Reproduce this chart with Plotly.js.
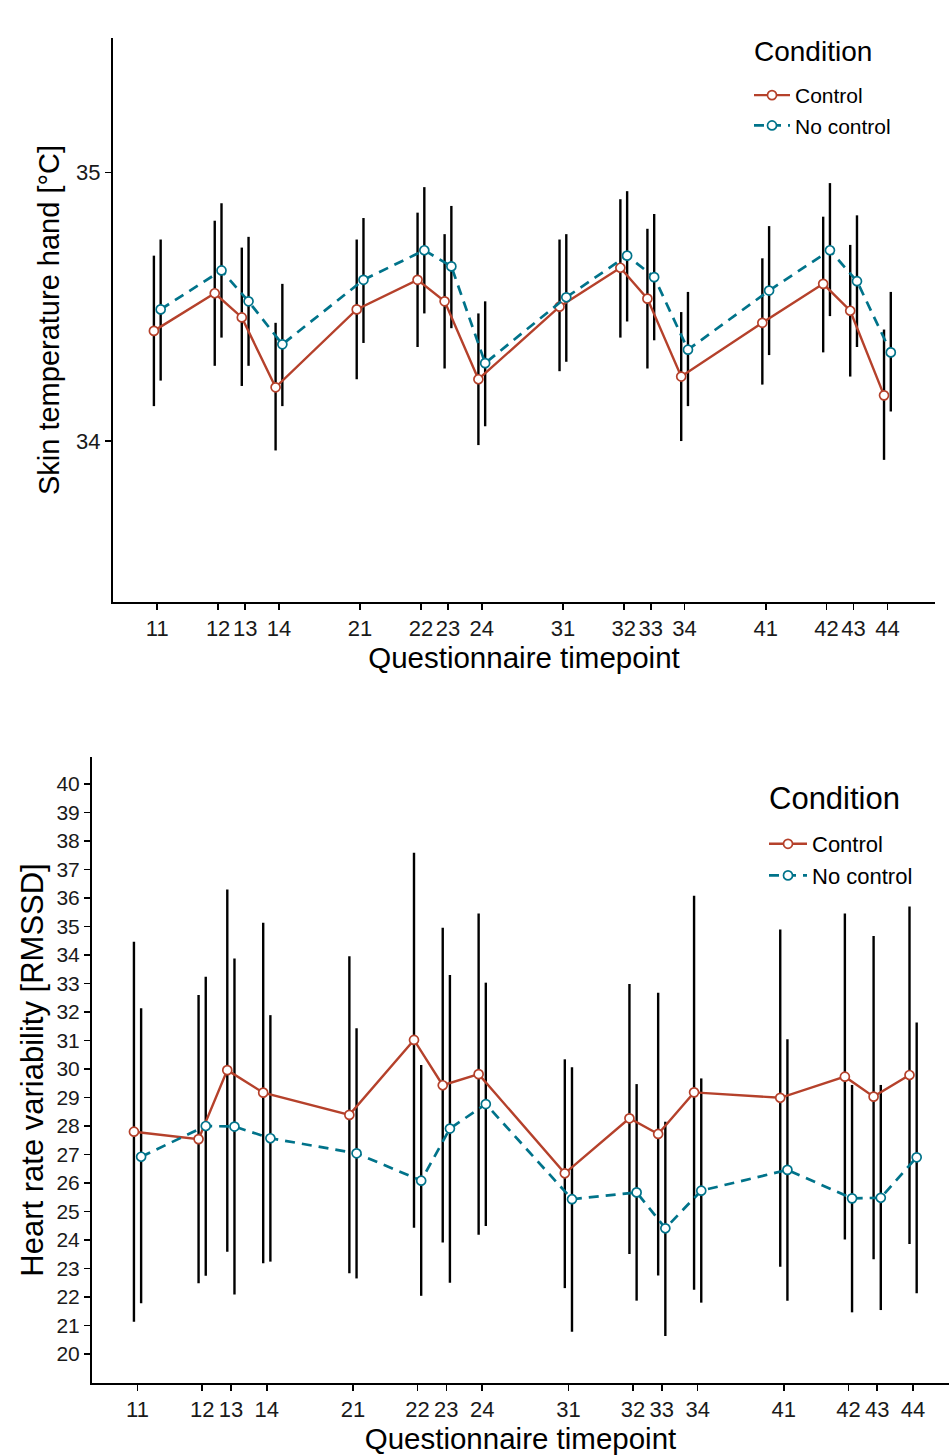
<!DOCTYPE html>
<html>
<head>
<meta charset="utf-8">
<script src="https://cdn.plot.ly/plotly-3.0.1.min.js"></script>
<style>html,body{margin:0;padding:0;background:#fff;}#chart{width:949px;height:1455px;}</style>
</head>
<body>
<div id="chart"></div>
<script>
// Questionnaire timepoints (time position within session) and labels
const timepoints = [0, 9, 13, 18, 30, 39, 43, 48, 60, 69, 73, 78, 90, 99, 103, 108];
const tickLabels = ['11','12','13','14','21','22','23','24','31','32','33','34','41','42','43','44'];

// Skin temperature hand [°C]
const skinControlMean  = [34.41,34.55,34.46,34.20,34.49,34.60,34.52,34.23,34.50,34.645,34.53,34.24,34.44,34.585,34.485,34.17];
const skinControlUpper = [34.69,34.82,34.72,34.44,34.75,34.85,34.77,34.475,34.75,34.90,34.79,34.48,34.68,34.835,34.73,34.415];
const skinControlLower = [34.13,34.28,34.205,33.965,34.23,34.35,34.27,33.985,34.26,34.385,34.27,34.00,34.21,34.33,34.24,33.93];
const skinNoMean  = [34.49,34.635,34.52,34.36,34.60,34.71,34.65,34.29,34.535,34.69,34.61,34.34,34.56,34.71,34.595,34.33];
const skinNoUpper = [34.75,34.885,34.76,34.585,34.83,34.945,34.875,34.52,34.77,34.93,34.845,34.555,34.80,34.96,34.84,34.555];
const skinNoLower = [34.225,34.385,34.28,34.13,34.365,34.475,34.42,34.055,34.295,34.445,34.375,34.13,34.32,34.465,34.35,34.11];

// Heart rate variability [RMSSD]
const hrvControlMean  = [27.8,27.54,29.96,29.17,28.39,31.02,29.43,29.82,26.34,28.27,27.72,29.18,28.99,29.73,29.03,29.79];
const hrvControlUpper = [34.47,32.6,36.3,35.13,33.96,37.59,34.96,35.46,30.34,32.98,32.68,36.08,34.9,35.46,34.67,35.7];
const hrvControlLower = [21.13,22.48,23.59,23.18,22.83,24.43,23.91,24.18,22.31,23.51,22.75,22.25,23.06,24.02,23.32,23.86];
const hrvNoMean  = [26.92,28.0,27.98,27.57,27.04,26.08,27.91,28.77,25.43,25.67,24.41,25.73,26.46,25.46,25.48,26.9];
const hrvNoUpper = [32.13,33.24,33.88,31.89,31.43,30.14,33.3,33.03,30.06,29.47,28.15,29.67,31.04,29.44,29.44,31.63];
const hrvNoLower = [21.78,22.74,22.09,23.24,22.65,22.04,22.5,24.49,20.78,21.87,20.63,21.8,21.87,21.46,21.54,22.13];

// y tick values
const skinTicks = [34, 35];
const hrvTicks = [20,21,22,23,24,25,26,27,28,29,30,31,32,33,34,35,36,37,38,39,40];

const conditions = ['Control', 'No control'];
const legendTitle = 'Condition';
const colors = ['#B5412B', '#00738A'];
const dodge = 0.5;
const FONT = 'Liberation Sans, Arial, sans-serif';

function errTrace(x, mean, up, lo, xa, ya) {
  return {
    type: 'scatter', mode: 'markers', x: x, y: mean, xaxis: xa, yaxis: ya,
    marker: {opacity: 0, size: 1}, showlegend: false, hoverinfo: 'skip',
    error_y: {type: 'data', symmetric: false,
      array: mean.map((m, i) => up[i] - m),
      arrayminus: mean.map((m, i) => m - lo[i]),
      color: '#000', thickness: 2.4, width: 0}
  };
}
function lineTrace(x, mean, idx, xa, ya, legend) {
  return {
    type: 'scatter', mode: 'lines+markers', name: conditions[idx], x: x, y: mean,
    xaxis: xa, yaxis: ya, legend: legend,
    line: {color: colors[idx], width: idx === 0 ? 2.4 : 2.7, dash: idx === 0 ? 'solid' : '10px,7px'},
    marker: {symbol: 'circle', size: 9, color: '#fff', line: {color: colors[idx], width: 1.7}}
  };
}

const xC = timepoints.map(t => t - dodge);
const xN = timepoints.map(t => t + dodge);

const data = [
  errTrace(xC, skinControlMean, skinControlUpper, skinControlLower, 'x', 'y'),
  errTrace(xN, skinNoMean, skinNoUpper, skinNoLower, 'x', 'y'),
  lineTrace(xC, skinControlMean, 0, 'x', 'y', 'legend'),
  lineTrace(xN, skinNoMean, 1, 'x', 'y', 'legend'),
  errTrace(xC, hrvControlMean, hrvControlUpper, hrvControlLower, 'x2', 'y2'),
  errTrace(xN, hrvNoMean, hrvNoUpper, hrvNoLower, 'x2', 'y2'),
  lineTrace(xC, hrvControlMean, 0, 'x2', 'y2', 'legend2'),
  lineTrace(xN, hrvNoMean, 1, 'x2', 'y2', 'legend2')
];

const W = 949, H = 1455;
const axBase = {
  showline: true, linecolor: '#000', linewidth: 2, mirror: false,
  ticks: 'outside', ticklen: 6, tickwidth: 1.6, tickcolor: '#000',
  showgrid: false, zeroline: false, fixedrange: true
};

const layout = {
  width: W, height: H,
  margin: {l: 0, r: 0, t: 0, b: 0},
  paper_bgcolor: '#fff', plot_bgcolor: '#fff',
  font: {family: FONT, color: '#000'},
  xaxis: Object.assign({}, axBase, {
    domain: [113 / W, 935 / W], anchor: 'y', range: [-6.55, 115.04],
    tickmode: 'array', tickvals: timepoints, ticktext: tickLabels,
    tickfont: {size: 22, family: FONT, color: '#1a1a1a'},
    title: {text: 'Questionnaire timepoint', font: {size: 29.5, family: FONT}, standoff: 4}
  }),
  yaxis: Object.assign({}, axBase, {
    domain: [1 - 602 / H, 1 - 38 / H], anchor: 'x', range: [33.401, 35.5],
    tickmode: 'array', tickvals: skinTicks, ticktext: skinTicks.map(String),
    tickfont: {size: 22, family: FONT, color: '#1a1a1a'},
    title: {text: 'Skin temperature hand [°C]', font: {size: 29, family: FONT}, standoff: 8}
  }),
  xaxis2: Object.assign({}, axBase, {
    domain: [92 / W, 1], anchor: 'y2', range: [-6.34, 113],
    tickmode: 'array', tickvals: timepoints, ticktext: tickLabels,
    tickfont: {size: 22, family: FONT, color: '#1a1a1a'},
    title: {text: 'Questionnaire timepoint', font: {size: 29.5, family: FONT}, standoff: 2}
  }),
  yaxis2: Object.assign({}, axBase, {
    domain: [1 - 1383 / H, 1 - 757 / H], anchor: 'x2', range: [18.98, 40.95],
    tickmode: 'array', tickvals: hrvTicks, ticktext: hrvTicks.map(String),
    tickfont: {size: 21, family: FONT, color: '#1a1a1a'},
    title: {text: 'Heart rate variability [RMSSD]', font: {size: 31, family: FONT}, standoff: 4}
  }),
  legend: {
    x: 749 / W, y: 1 - 75 / H, xanchor: 'left', yanchor: 'top',
    bgcolor: 'rgba(0,0,0,0)', borderwidth: 0,
    font: {size: 21, family: FONT}, tracegroupgap: 0, itemwidth: 36
  },
  legend2: {
    x: 764 / W, y: 1 - 823 / H, xanchor: 'left', yanchor: 'top',
    bgcolor: 'rgba(0,0,0,0)', borderwidth: 0,
    font: {size: 22, family: FONT}, tracegroupgap: 0, itemwidth: 38
  },
  annotations: [
    {text: legendTitle, xref: 'paper', yref: 'paper', x: 752 / W, y: 1 - 52 / H,
     xanchor: 'left', yanchor: 'middle', showarrow: false, font: {size: 28, family: FONT, color: '#000'}},
    {text: legendTitle, xref: 'paper', yref: 'paper', x: 767 / W, y: 1 - 798 / H,
     xanchor: 'left', yanchor: 'middle', showarrow: false, font: {size: 31, family: FONT, color: '#000'}}
  ],
  showlegend: true
};

Plotly.newPlot('chart', data, layout, {displayModeBar: false, staticPlot: true});
</script>
</body>
</html>
